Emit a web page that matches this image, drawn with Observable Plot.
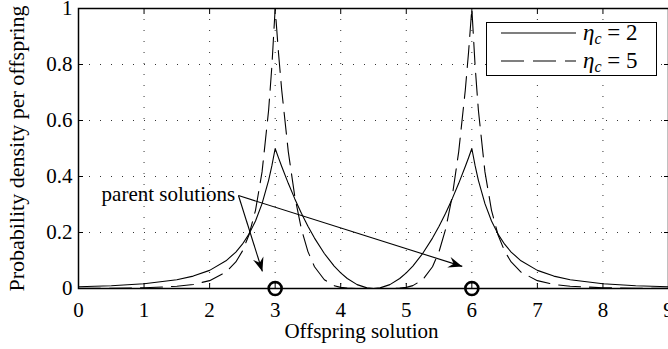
<!DOCTYPE html>
<html><head><meta charset="utf-8">
<script src="https://cdn.jsdelivr.net/npm/d3@7"></script>
<script src="https://cdn.jsdelivr.net/npm/@observablehq/plot@0.6"></script>
<style>
body{margin:0;background:#fff}
#wrap{position:relative;width:668px;height:349px;overflow:hidden;background:#fff}
#wrap svg text{font-family:'Liberation Serif',serif}
#legend{position:absolute;left:486px;top:22px;width:171px;height:54px;box-sizing:border-box;border:1px solid #000;background:#fff}
</style>
</head><body><div id="wrap"></div>
<script>
// offspring solution positions (x) and densities
const offspring = [0,0.5,1,1.5,1.75,2,2.25,2.4,2.5,2.6,2.7,2.8,2.9,2.95,3,3.05,3.1,3.2,3.3,3.4,3.5,3.6,3.75,3.9,4,4.1,4.25,4.4,4.5,
  4.6,4.75,4.9,5,5.1,5.25,5.4,5.5,5.6,5.7,5.8,5.9,5.95,6,6.05,6.1,6.2,6.3,6.4,6.5,6.6,6.75,7,7.25,7.5,8,8.5,9];
const densityEta2 = [0.0062,0.0099,0.0169,0.0313,0.0443,0.0648,0.0988,0.1302,0.1582,0.1942,0.2411,0.3031,0.3862,0.4386,0.5,0.4672,0.4356,0.3756,0.32,0.2689,0.2222,0.18,0.125,0.08,0.0556,0.0356,0.0139,0.0022,0,
  0.0022,0.0139,0.0356,0.0556,0.08,0.125,0.18,0.2222,0.2689,0.32,0.3756,0.4356,0.4672,0.5,0.4386,0.3862,0.3031,0.2411,0.1942,0.1582,0.1302,0.0988,0.0648,0.0443,0.0313,0.0169,0.0099,0.0062];
const densityEta5 = [0.0005,0.001,0.0027,0.0078,0.0144,0.028,0.0585,0.0949,0.1335,0.1911,0.2791,0.4164,0.6364,0.7949,1,0.844,0.7082,0.489,0.3277,0.2121,0.1317,0.0778,0.0313,0.0102,0.0041,0.0014,0.0001,0,0,
  0,0.0001,0.0014,0.0041,0.0102,0.0313,0.0778,0.1317,0.2121,0.3277,0.489,0.7082,0.844,1,0.7949,0.6364,0.4164,0.2791,0.1911,0.1335,0.0949,0.0585,0.028,0.0144,0.0078,0.0027,0.001,0.0005];
const xTickValues = [0,1,2,3,4,5,6,7,8,9];
const yTickValues = [0,0.2,0.4,0.6,0.8,1];
const parentSolutions = [3,6];
const seriesEta = [2,5];
const annotationText = ["parent solutions"];
const annotationAnchor = {x: 2.39, y: 0.338};
const arrowStart = {x: 2.44, y: 0.332};
const arrowEnds = [{x: 2.805, y: 0.061},{x: 5.854, y: 0.079}];
const xLabel = "Offspring solution";
const yLabel = "Probability density per offspring";

const rows = offspring.map((x, i) => ({x, a: densityEta2[i], b: densityEta5[i]}));
const FONT = "'Liberation Serif', serif";

const chart = Plot.plot({
  width: 668, height: 349,
  marginLeft: 78, marginRight: 0, marginTop: 8, marginBottom: 61,
  style: {fontFamily: FONT, fontSize: "21px", background: "white", color: "black", overflow: "visible"},
  x: {domain: [0, 9]},
  y: {domain: [0, 1]},
  marks: [
    Plot.gridX(xTickValues, {stroke: "#333", strokeOpacity: 1, strokeDasharray: "1,10", strokeWidth: 1}),
    Plot.gridY(yTickValues, {stroke: "#333", strokeOpacity: 1, strokeDasharray: "1,10", strokeWidth: 1}),
    Plot.line(rows, {x: "x", y: "a", stroke: "black", strokeWidth: 1.1}),
    Plot.line(rows, {x: "x", y: "b", stroke: "black", strokeWidth: 1.1, strokeDasharray: "22,9"}),
    Plot.axisX(xTickValues, {anchor: "bottom", tickSize: -5, tickFormat: () => "", label: null}),
    Plot.axisX(xTickValues, {anchor: "top", tickSize: -5, tickFormat: () => "", label: null}),
    Plot.axisY(yTickValues, {anchor: "left", tickSize: -5, tickFormat: () => "", label: null}),
    Plot.axisY(yTickValues, {anchor: "right", tickSize: -5, tickFormat: () => "", label: null}),
    Plot.axisX(xTickValues, {anchor: "bottom", tickSize: 0, tickPadding: 14, tickFormat: d => String(d), label: null, fontSize: 21}),
    Plot.axisY(yTickValues, {anchor: "left", tickSize: 0, tickPadding: 6, tickFormat: d => String(d), label: null, fontSize: 21}),
    Plot.frame({stroke: "black", strokeWidth: 1.5}),
    Plot.text([xLabel], {frameAnchor: "bottom", text: d => d, textAnchor: "middle", lineAnchor: "middle", dx: -12, dy: 43, fontSize: 21}),
    Plot.text([yLabel], {frameAnchor: "left", text: d => d, textAnchor: "middle", lineAnchor: "middle", rotate: -90, dx: -62, fontSize: 22}),
    Plot.text(annotationText, {x: annotationAnchor.x, y: annotationAnchor.y, text: d => d, textAnchor: "end", lineAnchor: "middle", fontSize: 21}),
    Plot.link(arrowEnds, {x1: arrowStart.x, y1: arrowStart.y, x2: "x", y2: "y", stroke: "black", strokeWidth: 1.1}),
    Plot.dot(parentSolutions, {x: d => d, y: 0, r: 6.5, stroke: "black", strokeWidth: 2.6, fill: "none"})
  ]
});

// filled arrowheads
const svg = d3.select(chart);
svg.append("defs").append("marker")
  .attr("id", "ah").attr("viewBox", "-14 -6 15 12")
  .attr("refX", 0).attr("refY", 0)
  .attr("markerWidth", 15).attr("markerHeight", 12)
  .attr("markerUnits", "userSpaceOnUse").attr("orient", "auto")
  .append("path").attr("d", "M0,0L-14,-5.5L-9,0L-14,5.5Z").attr("fill", "black");
svg.selectAll('g[aria-label="link"] path').attr("marker-end", "url(#ah)");

const wrap = document.getElementById("wrap");
wrap.appendChild(chart);

// legend
const legend = document.createElement("div");
legend.id = "legend";
const ls = d3.select(legend).append("svg").attr("width", 169).attr("height", 52);
seriesEta.forEach((eta, i) => {
  const y = 10 + i * 28;
  ls.append("line").attr("x1", 14).attr("x2", 89).attr("y1", y).attr("y2", y)
    .attr("stroke", "black").attr("stroke-width", 1.1)
    .attr("stroke-dasharray", i === 0 ? null : "23,9");
  const t = ls.append("text").attr("x", 96).attr("y", y + 7)
    .style("font-family", FONT).style("font-size", "23px");
  t.append("tspan").attr("font-style", "italic").text("η");
  t.append("tspan").attr("font-style", "italic").attr("font-size", "16px").attr("dy", 4).text("c");
  t.append("tspan").attr("dy", -4).text(" = " + eta);
});
wrap.appendChild(legend);
</script>
</body></html>
